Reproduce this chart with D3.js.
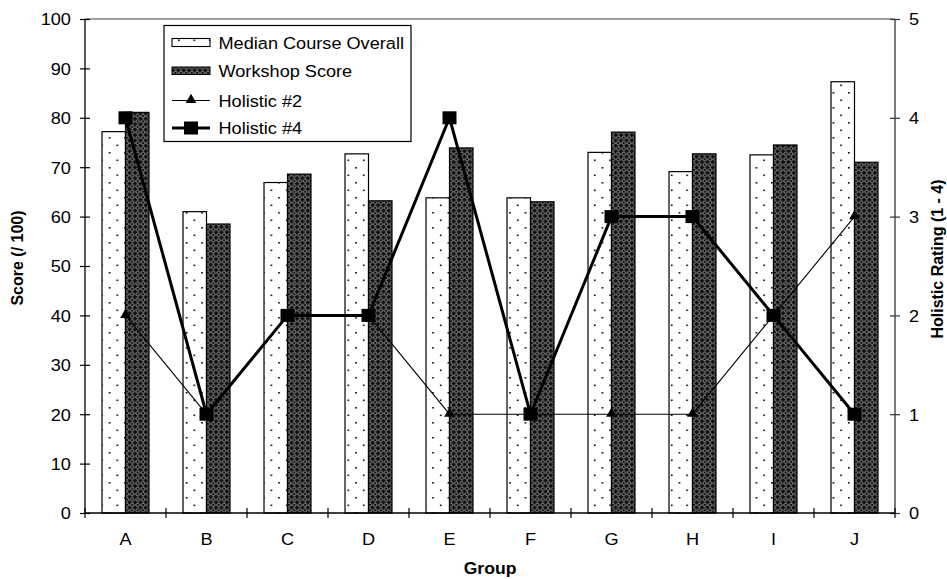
<!DOCTYPE html>
<html>
<head>
<meta charset="utf-8">
<script src="https://cdn.jsdelivr.net/npm/d3@7"></script>
<style>
html,body{margin:0;padding:0;background:#fff;}
svg{display:block;font-family:Arial,"Liberation Sans",sans-serif;}
</style>
</head>
<body>
<svg id="chart" width="947" height="579"></svg>
<script>
const groups = ["A","B","C","D","E","F","G","H","I","J"];
const medianCourse = [77.2, 61.0, 66.9, 72.7, 63.8, 63.8, 73.0, 69.1, 72.5, 87.3];
const workshopScore = [81.1, 58.5, 68.6, 63.2, 73.9, 63.0, 77.1, 72.7, 74.5, 71.0];
const holistic2 = [2, 1, 2, 2, 1, 1, 1, 1, 2, 3];
const holistic4 = [4, 1, 2, 2, 4, 1, 3, 3, 2, 1];
const leftTicks = [0,10,20,30,40,50,60,70,80,90,100];
const rightTicks = [0,1,2,3,4,5];
const seriesNames = ["Median Course Overall","Workshop Score","Holistic #2","Holistic #4"];

const svg = d3.select("#chart");
const L = 85, R = 895, T = 19, B = 513;
const SX = 1.1; // horizontal glyph stretch
const FS = 16.5;

// patterns
const defs = svg.append("defs");
const pDots = defs.append("pattern").attr("id","dots").attr("patternUnits","userSpaceOnUse")
  .attr("width",15.4).attr("height",15);
pDots.append("rect").attr("width",15.4).attr("height",15).attr("fill","#fff");
pDots.append("rect").attr("x",1).attr("y",2).attr("width",1.6).attr("height",1.6).attr("fill","#000");
pDots.append("rect").attr("x",8.7).attr("y",9.5).attr("width",1.6).attr("height",1.6).attr("fill","#000");

const pHatch = defs.append("pattern").attr("id","hatch").attr("patternUnits","userSpaceOnUse")
  .attr("width",5.4).attr("height",5.4);
pHatch.append("rect").attr("width",5.4).attr("height",5.4).attr("fill","#111");
pHatch.append("path").attr("d","M2.7,0.5 L4.9,2.7 L2.7,4.9 L0.5,2.7 Z")
  .attr("fill","none").attr("stroke","#c4c4c4").attr("stroke-width",0.8);
pHatch.append("rect").attr("x",2.2).attr("y",2.2).attr("width",1).attr("height",1).attr("fill","#000");

// scales
const x = d3.scaleBand().domain(groups).range([L,R]).paddingInner(0.42).paddingOuter(0.21);
const xs = d3.scaleBand().domain(["median","workshop"]).range([0, x.bandwidth()]);
const y = d3.scaleLinear().domain([0,100]).range([B,T]);
const y2 = d3.scaleLinear().domain([0,5]).range([B,T]);

// top border
svg.append("line").attr("x1",L).attr("x2",R).attr("y1",y(100)).attr("y2",y(100))
  .attr("stroke","#808080").attr("stroke-width",1.3);

// bars
const g = svg.append("g");
groups.forEach((grp,i)=>{
  g.append("rect").attr("x",x(grp)+xs("median")).attr("y",y(medianCourse[i]))
   .attr("width",xs.bandwidth()).attr("height",y(0)-y(medianCourse[i]))
   .attr("fill","url(#dots)").attr("stroke","#000").attr("stroke-width",1.2);
  g.append("rect").attr("x",x(grp)+xs("workshop")).attr("y",y(workshopScore[i]))
   .attr("width",xs.bandwidth()).attr("height",y(0)-y(workshopScore[i]))
   .attr("fill","url(#hatch)").attr("stroke","#000").attr("stroke-width",1.2);
});

// axes
const fontAttrs = s => s.attr("font-family","Arial, 'Liberation Sans', sans-serif").attr("font-size",FS).attr("fill","#000");

const axL = svg.append("g").attr("transform",`translate(${L},0)`)
  .call(d3.axisLeft(y).tickValues(leftTicks).tickSize(5).tickPadding(0).tickFormat(d3.format("d")));
axL.select(".domain").attr("stroke","#000").attr("stroke-width",1.3).attr("d",`M0,${B}V${T}`);
axL.selectAll(".tick line").attr("x1",5).attr("stroke","#000").attr("stroke-width",1.2);
axL.selectAll(".tick text").call(fontAttrs).attr("x",-12.8).attr("dy","0.36em")
  .attr("text-anchor","end").attr("transform",`scale(${SX},1)`);

const axR = svg.append("g").attr("transform",`translate(${R},0)`)
  .call(d3.axisRight(y2).tickValues(rightTicks).tickSize(5).tickPadding(0).tickFormat(d3.format("d")));
axR.select(".domain").attr("stroke","#333").attr("stroke-width",1.3).attr("d",`M0,${B}V${T}`);
axR.selectAll(".tick line").attr("x1",-5).attr("stroke","#333").attr("stroke-width",1.2);
axR.selectAll(".tick text").call(fontAttrs).attr("x",12.8).attr("dy","0.36em")
  .attr("text-anchor","start").attr("transform",`scale(${SX},1)`);

const axB = svg.append("g").attr("transform",`translate(0,${B})`)
  .call(d3.axisBottom(x).tickSize(0).tickPadding(0));
axB.select(".domain").attr("stroke","#000").attr("stroke-width",1.3).attr("d",`M${L},0H${R}`);
axB.selectAll(".tick text").call(fontAttrs).attr("y",0).attr("dy",32).attr("x",0)
  .attr("text-anchor","middle").attr("transform",`scale(${SX},1)`);
// boundary ticks
const bounds = d3.range(groups.length+1).map(i => x.range()[0] + i*x.step());
axB.selectAll("line.bt").data(bounds).enter().append("line").attr("class","bt")
  .attr("x1",d=>d).attr("x2",d=>d).attr("y1",-5).attr("y2",5)
  .attr("stroke","#000").attr("stroke-width",1.2);

// lines
const cx = (d,i) => x(groups[i]) + x.bandwidth()/2;
const line2 = d3.line().x((d,i)=>cx(d,i)).y(d=>y2(d));
svg.append("path").attr("d",line2(holistic2)).attr("fill","none").attr("stroke","#000").attr("stroke-width",1.1);
const tri = d3.symbol().type(d3.symbolTriangle).size(50);
svg.selectAll("path.tri").data(holistic2).enter().append("path").attr("class","tri")
  .attr("d",tri).attr("transform",(d,i)=>`translate(${cx(d,i)},${y2(d)-0.5})`).attr("fill","#000");

svg.append("path").attr("d",line2(holistic4)).attr("fill","none").attr("stroke","#000").attr("stroke-width",3);
svg.selectAll("rect.sq").data(holistic4).enter().append("rect").attr("class","sq")
  .attr("x",(d,i)=>cx(d,i)-7).attr("y",d=>y2(d)-6.5).attr("width",14).attr("height",13).attr("fill","#000");

// axis titles
svg.append("text").attr("transform",`translate(23,258) rotate(-90)`).attr("text-anchor","middle")
  .attr("font-weight","bold").attr("font-size",16).text("Score (/ 100)");
svg.append("text").attr("transform",`translate(943.3,259) rotate(-90)`).attr("text-anchor","middle")
  .attr("font-weight","bold").attr("font-size",16).text("Holistic Rating (1 - 4)");
svg.append("text").attr("transform",`translate(${(L+R)/2},574) scale(${SX},1)`).attr("text-anchor","middle")
  .attr("font-weight","bold").attr("font-size",16).text("Group");

// legend
const lg = svg.append("g");
lg.append("rect").attr("x",164).attr("y",25.5).attr("width",247).attr("height",116)
  .attr("fill","#fff").attr("stroke","#000").attr("stroke-width",1.2);
const rowsY = [42.5, 70.5, 100.5, 128];
const sw0 = 172, sw1 = 210;
lg.append("rect").attr("x",sw0).attr("y",rowsY[0]-4).attr("width",sw1-sw0).attr("height",8)
  .attr("fill","url(#dots)").attr("stroke","#000").attr("stroke-width",1.1);
lg.append("rect").attr("x",sw0).attr("y",rowsY[1]-3.5).attr("width",sw1-sw0).attr("height",7.5)
  .attr("fill","url(#hatch)").attr("stroke","#000").attr("stroke-width",1);
lg.append("line").attr("x1",sw0).attr("x2",sw1).attr("y1",rowsY[2]).attr("y2",rowsY[2]).attr("stroke","#000").attr("stroke-width",1.1);
lg.append("path").attr("d",tri).attr("transform",`translate(${(sw0+sw1)/2},${rowsY[2]-0.5})`).attr("fill","#000");
lg.append("line").attr("x1",sw0).attr("x2",sw1).attr("y1",rowsY[3]).attr("y2",rowsY[3]).attr("stroke","#000").attr("stroke-width",3);
lg.append("rect").attr("x",(sw0+sw1)/2-7).attr("y",rowsY[3]-6.5).attr("width",14).attr("height",13).attr("fill","#000");
seriesNames.forEach((nm,i)=>{
  lg.append("text").attr("transform",`translate(218.5,${rowsY[i]+6}) scale(${SX},1)`)
    .attr("font-size",FS).attr("fill","#000").text(nm);
});
</script>
</body>
</html>
